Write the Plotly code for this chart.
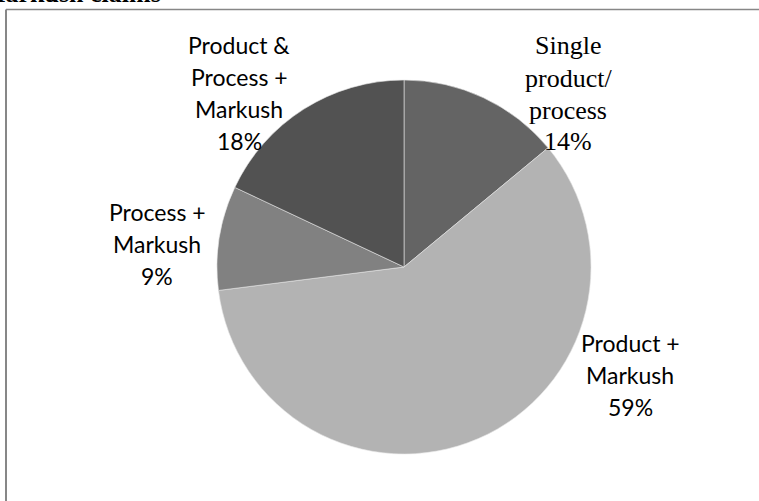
import plotly.graph_objects as go

# Data
labels = ["Single\nproduct/\nprocess", "Product +\nMarkush", "Process +\nMarkush", "Product &\nProcess +\nMarkush"]
values = [14, 59, 9, 18]
colors = ["#646464", "#b3b3b3", "#818181", "#525252"]
title_text = "Markush claims"

W, H = 759, 501
cx, cy, r = 404, 267, 187

fig = go.Figure(go.Pie(
    labels=[l.replace("\n", " ") for l in labels],
    values=values,
    sort=False,
    direction="clockwise",
    rotation=0,
    marker=dict(colors=colors, line=dict(color="#e6e6e6", width=0.6)),
    textinfo="none",
    hoverinfo="label+percent",
    showlegend=False,
    domain=dict(x=[(cx - r) / W, (cx + r) / W], y=[(H - cy - r) / H, (H - cy + r) / H]),
))

serif = dict(family="Liberation Serif", size=26, color="#000")
sans = dict(family="Lato", size=23, color="#000")
# label placement (pixel centers of first line, line spacing, font)
label_style = [
    dict(x=568, y=46, dy=32, font=serif),
    dict(x=630, y=343, dy=32, font=sans),
    dict(x=157, y=212, dy=32, font=sans),
    dict(x=239, y=45, dy=32, font=sans),
]
total = sum(values)
annotations = []
for lab, v, st in zip(labels, values, label_style):
    lines = lab.split("\n") + [f"{round(100 * v / total)}%"]
    for i, ln in enumerate(lines):
        annotations.append(dict(
            x=st["x"] / W, y=1 - (st["y"] + i * st["dy"]) / H, xref="paper", yref="paper",
            text=ln, showarrow=False, xanchor="center", yanchor="middle", font=st["font"],
        ))

annotations.append(dict(
    x=163 / W, y=1 - (-7) / H, xref="paper", yref="paper", text="<b>" + title_text + "</b>",
    showarrow=False, xanchor="right", yanchor="middle",
    font=dict(family="Liberation Serif", size=26, color="#000"),
))

shapes = [
    dict(type="line", xref="paper", yref="paper", x0=6 / W, x1=6 / W, y0=0, y1=1 - 9.5 / H,
         line=dict(color="#878787", width=2)),
    dict(type="line", xref="paper", yref="paper", x0=6 / W, x1=1, y0=1 - 9.5 / H, y1=1 - 9.5 / H,
         line=dict(color="#878787", width=1.5)),
]

fig.update_layout(
    width=W, height=H, margin=dict(l=0, r=0, t=0, b=0),
    paper_bgcolor="white", plot_bgcolor="white",
    annotations=annotations, shapes=shapes,
)
fig.write_html("out.html", config={"displayModeBar": False},
               post_script="document.body.style.margin='0';document.body.style.overflow='hidden';")
